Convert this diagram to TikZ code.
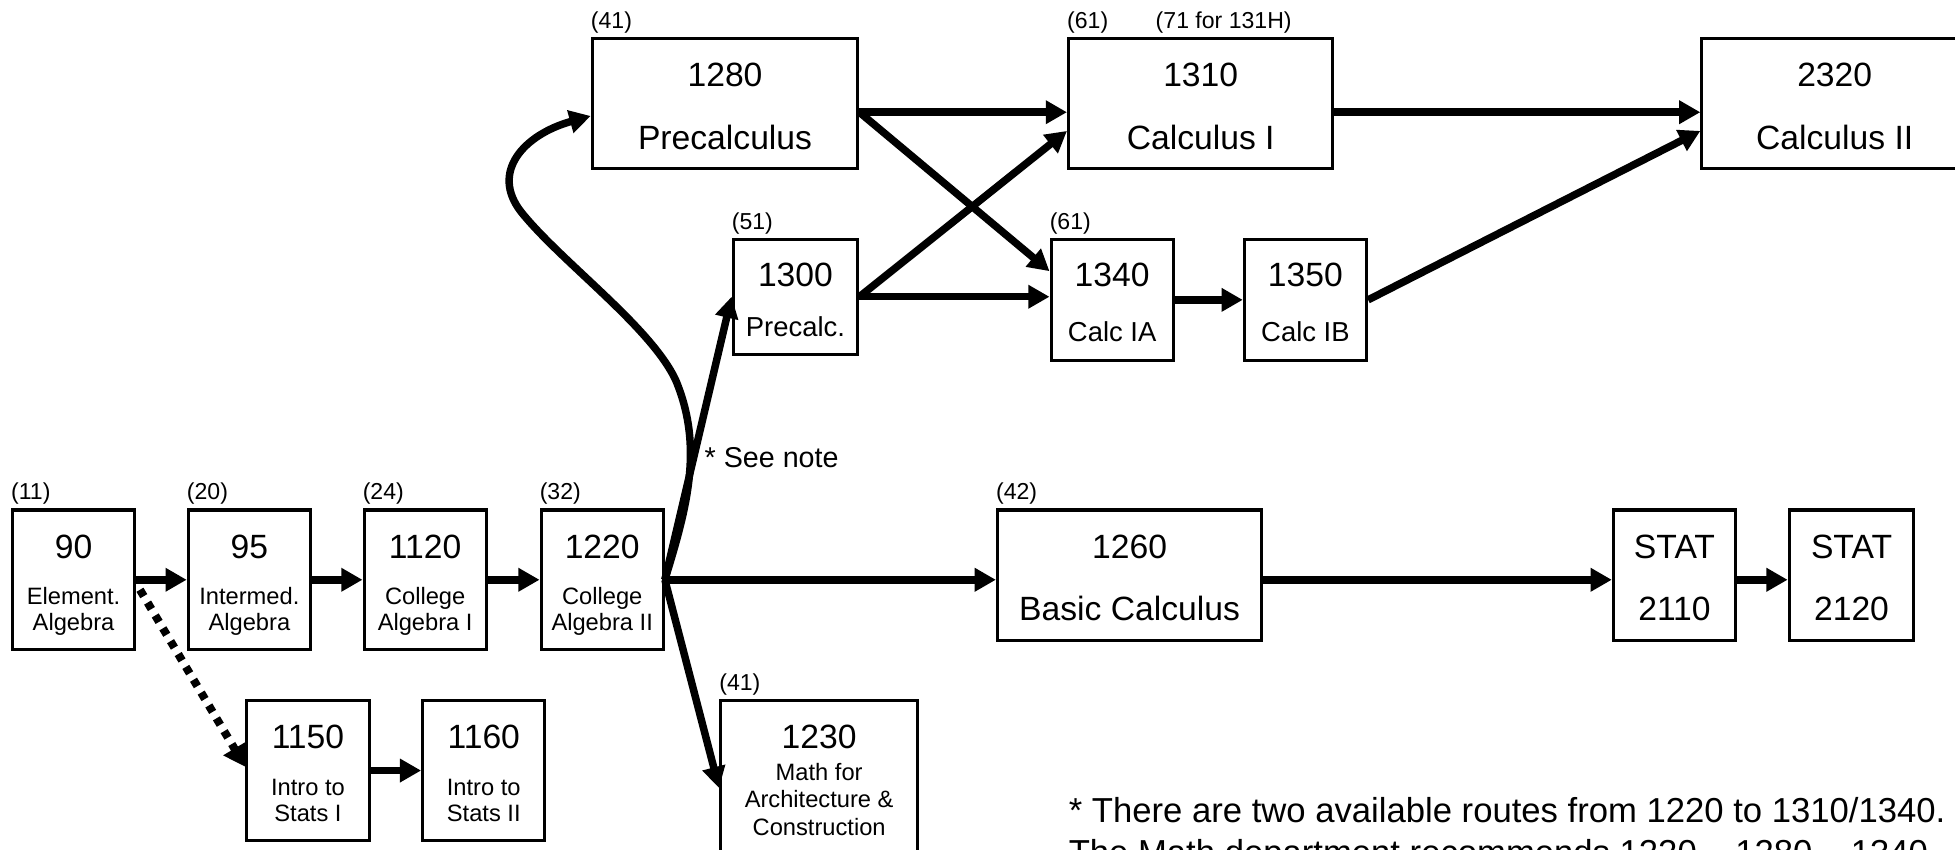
\documentclass[tikz,border=0pt]{standalone}
\usepackage{fontspec}
\setmainfont{Liberation Sans}
\usetikzlibrary{arrows.meta,calc}
\tikzset{
  cbox/.style={draw,line width=2.5pt,fill=white,inner sep=0pt},
  num/.style={font=\fontsize{27}{30}\selectfont,anchor=base,inner sep=0pt},
  sm/.style={font=\fontsize{19}{22}\selectfont,anchor=base,inner sep=0pt},
  md/.style={font=\fontsize{22}{26}\selectfont,anchor=base,inner sep=0pt},
  tagt/.style={font=\fontsize{18.5}{21}\selectfont,anchor=base west,inner sep=0pt},
  arr/.style={line width=6pt,-{Triangle[length=17pt,width=18pt]}},
  dotarr/.style={line width=6.5pt,dash pattern=on 6pt off 6pt,-{Triangle[length=17pt,width=20pt]}},
  notet/.style={font=\fontsize{27.8}{31}\selectfont,anchor=base west,inner sep=0pt}
}
\newcommand{\crs}[6]{%
  \node[cbox,minimum width=98pt,minimum height=112pt] (#1) at (#2) {};
  \node[num] at ([yshift=17.3pt]#1.center) {#3};
  \node[sm] at ([yshift=-20pt]#1.center) {#4};
  \node[sm] at ([yshift=-41pt]#1.center) {#5};
  \node[tagt] at ([yshift=7pt]#1.north west) {#6};
}
\begin{document}
\begin{tikzpicture}[x=1pt,y=-1pt]
\useasboundingbox (0,0) rectangle (1568,681);
\fill[white] (0,0) rectangle (1568,681);

% bottom row small boxes
\crs{b90}{59,465}{90}{Element.}{Algebra}{(11)}
\crs{b95}{200,465}{95}{Intermed.}{Algebra}{(20)}
\crs{b1120}{341,465}{1120}{College}{Algebra I}{(24)}
\crs{b1220}{483,465}{1220}{College}{Algebra II}{(32)}
\crs{b1150}{247,618}{1150}{Intro to}{Stats I}{}
\crs{b1160}{388,618}{1160}{Intro to}{Stats II}{}

% 1260 and STAT
\node[cbox,minimum width=212pt,minimum height=105pt] (b1260) at (906,461.5) {};
\node[num] at ([yshift=13.8pt]b1260.center) {1260};
\node[num] at ([yshift=-36.2pt]b1260.center) {Basic Calculus};
\node[tagt] at ([yshift=7pt]b1260.north west) {(42)};

\node[cbox,minimum width=98pt,minimum height=105pt] (bs2110) at (1343,461.5) {};
\node[num] at ([yshift=13.8pt]bs2110.center) {STAT};
\node[num] at ([yshift=-36.2pt]bs2110.center) {2110};
\node[cbox,minimum width=100pt,minimum height=105pt] (bs2120) at (1485,461.5) {};
\node[num] at ([yshift=13.8pt]bs2120.center) {STAT};
\node[num] at ([yshift=-36.2pt]bs2120.center) {2120};

% 1230
\node[cbox,minimum width=158pt,minimum height=140pt] (b1230) at (657,632) {};
\node[num] at (657,600.7) {1230};
\node[sm] at (657,625.8) {Math for};
\node[sm] at (657,647.8) {Architecture \&};
\node[sm] at (657,669.8) {Construction};
\node[tagt] at ([yshift=7pt]b1230.north west) {(41)};

% top boxes
\node[cbox,minimum width=213pt,minimum height=104pt] (b1280) at (581.5,83) {};
\node[num] at ([yshift=13.3pt]b1280.center) {1280};
\node[num] at ([yshift=-36.7pt]b1280.center) {Precalculus};
\node[tagt] at ([yshift=7pt]b1280.north west) {(41)};

\node[cbox,minimum width=212pt,minimum height=104pt] (b1310) at (963,83) {};
\node[num] at ([yshift=13.3pt]b1310.center) {1310};
\node[num] at ([yshift=-36.7pt]b1310.center) {Calculus I};
\node[tagt] at ([yshift=7pt]b1310.north west) {(61)};
\node[tagt] at ([xshift=71pt,yshift=7pt]b1310.north west) {(71 for 131H)};

\node[cbox,minimum width=213pt,minimum height=104pt] (b2320) at (1471.5,83) {};
\node[num] at ([yshift=13.3pt]b2320.center) {2320};
\node[num] at ([yshift=-36.7pt]b2320.center) {Calculus II};

\node[cbox,minimum width=100pt,minimum height=92pt] (b1300) at (638,238) {};
\node[num] at ([yshift=8.3pt]b1300.center) {1300};
\node[md] at ([yshift=-32pt]b1300.center) {Precalc.};
\node[tagt] at ([yshift=7pt]b1300.north west) {(51)};

\node[cbox,minimum width=98pt,minimum height=97pt] (b1340) at (892,240.5) {};
\node[num] at ([yshift=10.8pt]b1340.center) {1340};
\node[md] at ([yshift=-33.5pt]b1340.center) {Calc IA};
\node[tagt] at ([yshift=7pt]b1340.north west) {(61)};

\node[cbox,minimum width=98pt,minimum height=97pt] (b1350) at (1047,240.5) {};
\node[num] at ([yshift=10.8pt]b1350.center) {1350};
\node[md] at ([yshift=-33.5pt]b1350.center) {Calc IB};

% connectors
\draw[arr] (b90.east) -- (b95.west);
\draw[arr] (b95.east) -- (b1120.west);
\draw[arr] (b1120.east) -- (b1220.west);
\draw[arr] (b1150.east) -- (b1160.west);
\draw[dotarr] ([xshift=3pt,yshift=-8pt]b90.east) -- ([yshift=3pt]b1150.west);
\draw[arr] (b1220.east) -- (b1220.east -| b1260.west);
\draw[arr] (b1220.east -| b1260.east) -- (b1220.east -| bs2110.west);
\draw[arr] (b1220.east -| bs2110.east) -- (b1220.east -| bs2120.west);
\draw[arr] (b1220.east) -- (b1230.west);
\draw[arr] (b1220.east) -- (b1300.west);
\draw[arr] (b1220.east) .. controls (550,410) and (565,360) .. (542,305)
   .. controls (522,262) and (450,210) .. (418,170)
   .. controls (393,138) and (420,108) .. ([yshift=-10pt]b1280.west);
\draw[arr] ([yshift=-7pt]b1280.east) -- ([yshift=-7pt]b1310.west);
\draw[arr] ([yshift=-7pt]b1280.east) -- ([yshift=23pt]b1340.west);
\draw[arr] (b1300.east) -- ([yshift=-22pt]b1310.west);
\draw[arr] (b1300.east) -- (b1300.east -| b1340.west);
\draw[arr] (b1340.east) -- (b1350.west);
\draw[arr] ([yshift=-7pt]b1310.east) -- ([yshift=-7pt]b2320.west);
\draw[arr] (b1350.east) -- ([yshift=-22pt]b2320.west);

% notes
\node[anchor=base west,font=\fontsize{23}{26}\selectfont,inner sep=0pt] (seenote) at (565,375) {* See note};
\node[notet] (note1) at (857,660) {* There are two available routes from 1220 to 1310/1340.};
\node[notet] (note2) at (857,693) {The Math department recommends 1220 -- 1280 -- 1340.};
\end{tikzpicture}
\end{document}
